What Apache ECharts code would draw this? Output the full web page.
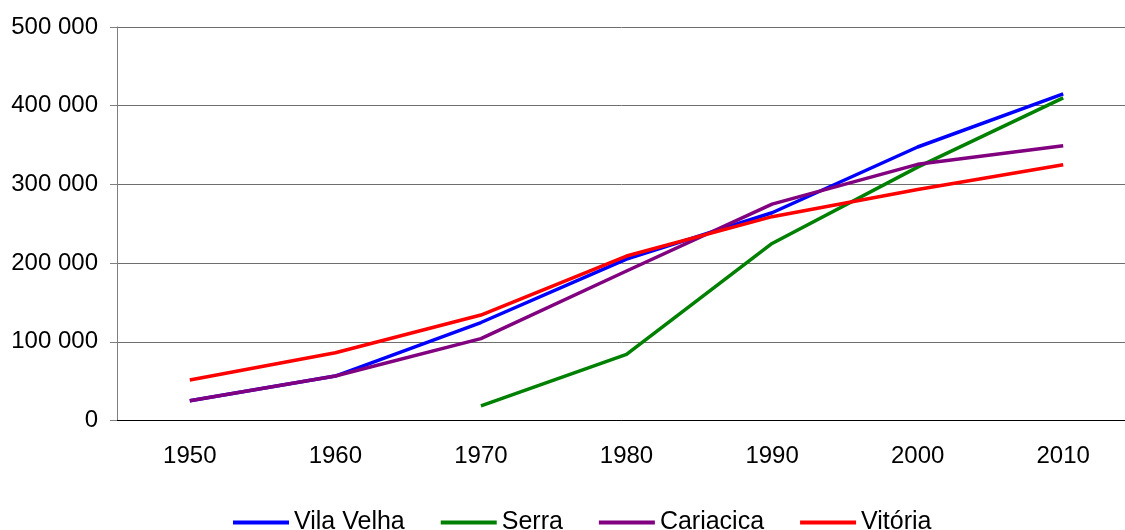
<!DOCTYPE html>
<html>
<head>
<meta charset="utf-8">
<script src="https://cdn.jsdelivr.net/npm/echarts@6/dist/echarts.min.js"></script>
<style>
  html, body { margin: 0; padding: 0; background: #fff; }
  #chart { width: 1125px; height: 530px; }
</style>
</head>
<body>
<div id="chart"></div>
<script>
const years = ["1950", "1960", "1970", "1980", "1990", "2000", "2010"];
const vilaVelha = [25000, 56500, 124500, 205000, 264000, 347500, 415000];
const serra = [null, null, 18500, 84000, 225000, 322000, 410000];
const cariacica = [25000, 56500, 104000, 190000, 275000, 325500, 349000];
const vitoria = [51500, 86000, 134000, 209000, 259000, 293500, 325000];

const font = "'Liberation Sans', Arial, sans-serif";

function fmt(v) {
  // 500000 -> "500 000"
  return String(v).replace(/\B(?=(\d{3})+(?!\d))/g, " ");
}

function line(name, data, color) {
  return {
    name,
    type: "line",
    data,
    symbol: "none",
    lineStyle: { color, width: 3.5 },
    itemStyle: { color },
  };
}

const chart = echarts.init(document.getElementById("chart"));
chart.setOption({
  animation: false,
  backgroundColor: "#fff",
  // plot runs past the right edge of the picture, like the original
  grid: { left: 117, width: 1019, top: 27, height: 393.5, outerBoundsMode: "none" },
  legend: {
    left: 233,
    top: 510,
    padding: 0,
    icon: "rect",
    itemWidth: 56,
    itemHeight: 4,
    itemGap: 36,
    textStyle: { color: "#000", fontSize: 25, fontFamily: font },
    data: ["Vila Velha", "Serra", "Cariacica", "Vitória"],
  },
  xAxis: {
    type: "category",
    data: years,
    boundaryGap: true,
    axisLine: { lineStyle: { color: "#000", width: 1 } },
    axisTick: { length: 7, lineStyle: { color: "#808080" } },
    axisLabel: { color: "#000", fontSize: 24, fontFamily: font, margin: 24 },
    splitLine: { show: false },
  },
  yAxis: {
    type: "value",
    min: 0,
    max: 500000,
    interval: 100000,
    axisLine: { show: true, lineStyle: { color: "#808080", width: 1 } },
    axisTick: { show: true, length: 7, lineStyle: { color: "#808080" } },
    axisLabel: {
      color: "#000",
      fontSize: 24,
      fontFamily: font,
      margin: 19,
      formatter: (v) => fmt(v),
    },
    splitLine: { lineStyle: { color: "#6e6e6e", width: 1 } },
  },
  series: [
    line("Vila Velha", vilaVelha, "#0000ff"),
    line("Serra", serra, "#008000"),
    line("Cariacica", cariacica, "#800080"),
    line("Vitória", vitoria, "#ff0000"),
  ],
});
</script>
</body>
</html>
